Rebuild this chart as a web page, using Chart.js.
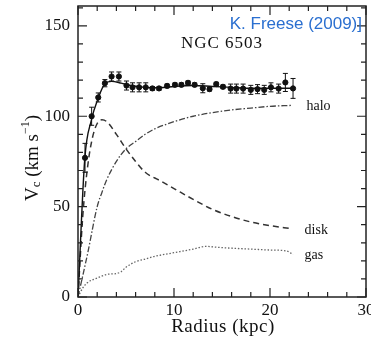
<!DOCTYPE html>
<html>
<head>
<meta charset="utf-8">
<script src="https://cdn.jsdelivr.net/npm/chart.js@4.4.0/dist/chart.umd.min.js"></script>
<style>
  html, body { margin: 0; padding: 0; background: #fff; }
  #wrap { width: 371px; height: 338px; position: relative; }
</style>
</head>
<body>
<div id="wrap"><canvas id="chart" width="371" height="338"></canvas></div>
<script>
// observed rotation curve (NGC 6503)
const obsR = [0.73, 1.42, 2.11, 2.80, 3.50, 4.26, 5.05, 5.68, 6.37, 7.06, 7.75, 8.44, 9.28, 10.1, 10.77, 11.46, 12.15, 13.0, 13.7, 14.4, 15.1, 15.9, 16.5, 17.2, 18.0, 18.7, 19.4, 20.1, 20.9, 21.6, 22.4];
const obsV = [77, 100, 110.4, 118.3, 122, 122, 117, 116, 116, 116, 115.4, 115.4, 116.8, 117.4, 117.4, 118.5, 117.4, 115.5, 115, 117.8, 116.3, 115.3, 115.3, 115.3, 114.6, 115, 114.6, 116, 115.3, 118.7, 115.4];
const obsErr = [8, 5, 2.5, 2, 2.5, 2.5, 2.5, 2.5, 2.5, 2.5, 1, 1, 1, 1, 1, 1, 1, 2.5, 1, 1, 1, 2.5, 2.5, 2.5, 2.5, 2.5, 2.5, 2.5, 2.5, 5, 5.5];

// model fit
const fitR = [0, 0.7, 1.4, 2.1, 2.8, 3.5, 4.5, 5.5, 7, 8.5, 10, 12, 14, 16, 18, 20, 22.4];
const fitV = [0, 76, 98, 110, 118, 119.3, 118.3, 117, 116, 115.8, 116.5, 117, 116.5, 116, 115.5, 115.5, 115.5];

// components
const haloR = [0, 1, 2, 2.5, 3, 4, 5, 6, 7, 8, 10, 12, 14, 16, 18, 20, 22.2];
const haloV = [0, 24, 50, 58, 65, 75, 82, 86, 90, 93, 97, 100, 102, 103.5, 104.5, 105.5, 106];
const diskR = [0, 0.5, 1, 1.5, 2, 2.5, 3, 4, 5, 6, 7, 8.5, 10, 12, 14, 16, 18, 20, 22.2];
const diskV = [0, 45, 72, 88, 96, 98, 97, 90, 82, 75, 69, 64.5, 60, 54, 48.5, 44.5, 41.5, 39.5, 37.8];
const gasR = [0, 0.5, 1, 2, 3, 4, 4.5, 5, 6, 7, 8, 10, 12, 13.3, 14.5, 16, 18, 20, 21.7, 22.4];
const gasV = [0, 5, 8, 10.5, 12.5, 13, 14, 16.5, 19.5, 21, 22.5, 24.5, 26.5, 28, 27.5, 27, 26.5, 26, 25.5, 23.5];

// annotations: [text, r, v]
const curveLabels = [['halo', 23.8, 105.5], ['disk', 23.6, 36.8], ['gas', 23.6, 23.3]];

const xyPairs = (xs, ys) => xs.map((x, i) => ({ x: x, y: ys[i] }));

const serif = "'Liberation Serif', 'DejaVu Serif', serif";

const decorPlugin = {
  id: 'decor',
  afterDatasetsDraw(chart) {
    const ctx = chart.ctx;
    const xs = chart.scales.x, ys = chart.scales.y;
    const a = chart.chartArea;

    ctx.save();
    // error bars
    ctx.strokeStyle = '#111';
    ctx.lineWidth = 1;
    obsR.forEach((r, i) => {
      const px = xs.getPixelForValue(r);
      const y1 = ys.getPixelForValue(obsV[i] - obsErr[i]);
      const y2 = ys.getPixelForValue(obsV[i] + obsErr[i]);
      ctx.beginPath();
      ctx.moveTo(px, y1); ctx.lineTo(px, y2);
      ctx.moveTo(px - 2.5, y1); ctx.lineTo(px + 2.5, y1);
      ctx.moveTo(px - 2.5, y2); ctx.lineTo(px + 2.5, y2);
      ctx.stroke();
    });

    // frame
    ctx.lineWidth = 1.5;
    ctx.strokeStyle = '#222';
    ctx.strokeRect(a.left, a.top, a.right - a.left, a.bottom - a.top);

    // inward ticks on all four sides
    ctx.lineWidth = 1.2;
    ctx.beginPath();
    for (let v = 0; v <= 30; v += 2) {
      const px = xs.getPixelForValue(v);
      const len = v % 10 === 0 ? 9 : 5;
      ctx.moveTo(px, a.bottom); ctx.lineTo(px, a.bottom - len);
      ctx.moveTo(px, a.top); ctx.lineTo(px, a.top + len);
    }
    for (let v = 0; v <= 160; v += 10) {
      const py = ys.getPixelForValue(v);
      const len = v % 50 === 0 ? 9 : 5;
      ctx.moveTo(a.left, py); ctx.lineTo(a.left + len, py);
      ctx.moveTo(a.right, py); ctx.lineTo(a.right - len, py);
    }
    ctx.stroke();

    // curve labels
    ctx.fillStyle = '#111';
    ctx.font = '14px ' + serif;
    ctx.textAlign = 'left';
    ctx.textBaseline = 'middle';
    curveLabels.forEach(([t, r, v]) => {
      ctx.fillText(t, xs.getPixelForValue(r), ys.getPixelForValue(v));
    });

    // galaxy name
    ctx.font = '17px ' + serif;
    ctx.textAlign = 'center';
    ctx.letterSpacing = '1px';
    ctx.fillText('NGC 6503', xs.getPixelForValue(15), ys.getPixelForValue(140));

    // x title
    ctx.font = '19px ' + serif;
    ctx.letterSpacing = '0.5px';
    ctx.fillText('Radius (kpc)', 223, 327);
    ctx.letterSpacing = '0px';

    // y title, rotated, with sub/superscripts
    ctx.translate(33, 158);
    ctx.rotate(-Math.PI / 2);
    const parts = [
      ['V', '19px', 0],
      ['c', '13px', 4],
      [' (km s', '19px', 0],
      ['\u22121', '12px', -7],
      [')', '19px', 0]
    ];
    let total = 0;
    parts.forEach(p => { ctx.font = p[1] + ' ' + serif; total += ctx.measureText(p[0]).width; });
    let cx = -total / 2;
    ctx.textAlign = 'left';
    parts.forEach(p => {
      ctx.font = p[1] + ' ' + serif;
      ctx.fillText(p[0], cx, p[2]);
      cx += ctx.measureText(p[0]).width;
    });
    ctx.restore();

    // credit
    ctx.save();
    ctx.font = "17px 'Liberation Sans', Arial, sans-serif";
    ctx.fillStyle = '#2a6fd0';
    ctx.textAlign = 'right';
    ctx.textBaseline = 'middle';
    ctx.fillText('K. Freese (2009)]', 362, 24);
    ctx.restore();
  }
};

const lineBase = {
  type: 'line',
  pointRadius: 0,
  fill: false,
  cubicInterpolationMode: 'monotone',
  order: 2
};

new Chart(document.getElementById('chart'), {
  type: 'scatter',
  data: {
    datasets: [
      { label: 'data', data: xyPairs(obsR, obsV), pointRadius: 2.6, pointBackgroundColor: '#111',
        pointBorderColor: '#111', showLine: false, order: 1 },
      Object.assign({}, lineBase, { label: 'fit', data: xyPairs(fitR, fitV), borderColor: '#111', borderWidth: 1.4 }),
      Object.assign({}, lineBase, { label: 'halo', data: xyPairs(haloR, haloV), borderColor: '#444', borderWidth: 1.3, borderDash: [6, 2, 1.5, 2] }),
      Object.assign({}, lineBase, { label: 'disk', data: xyPairs(diskR, diskV), borderColor: '#333', borderWidth: 1.5, borderDash: [6, 4] }),
      Object.assign({}, lineBase, { label: 'gas', data: xyPairs(gasR, gasV), borderColor: '#666', borderWidth: 1.3, borderDash: [1.5, 1.8] })
    ]
  },
  options: {
    responsive: false,
    animation: false,
    layout: { padding: { top: 6, right: 4, left: 0, bottom: 0 } },
    plugins: { legend: { display: false }, tooltip: { enabled: false } },
    scales: {
      x: {
        type: 'linear', min: 0, max: 30,
        ticks: { stepSize: 10, padding: 3, color: '#111', autoSkip: false, font: { family: serif, size: 17 }, maxRotation: 0 },
        grid: { display: false, drawTicks: false },
        border: { display: false },
        afterFit: s => { s.height = 41; s.paddingLeft = 0; s.paddingRight = 0; }
      },
      y: {
        min: 0, max: 161,
        ticks: { stepSize: 50, padding: 8, color: '#111', autoSkip: false, font: { family: serif, size: 17 } },
        grid: { display: false, drawTicks: false },
        border: { display: false },
        afterBuildTicks: s => { s.ticks = s.ticks.filter(t => t.value % 50 === 0); },
        afterFit: s => { s.width = 78; s.paddingTop = 0; s.paddingBottom = 0; }
      }
    }
  },
  plugins: [decorPlugin]
});
</script>
</body>
</html>
